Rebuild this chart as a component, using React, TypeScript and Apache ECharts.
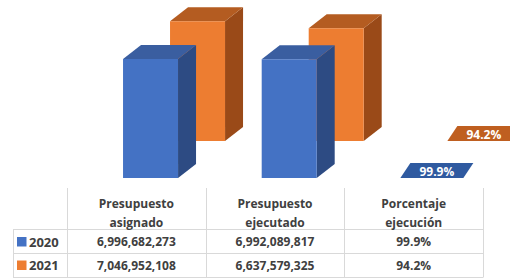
import React, { useEffect, useRef } from "react";
import * as echarts from "echarts";

const categories = ["Presupuesto\nasignado", "Presupuesto\nejecutado", "Porcentaje\nejecución"];
const years = ["2020", "2021"];
const values2020 = [6996682273, 6992089817, 0.999];
const values2021 = [7046952108, 6637579325, 0.942];
const pctIndex = 2;

const FONT = "'Open Sans', 'Noto Sans', sans-serif";
const TEXT = "#404040";
const LINE = "#d9d9d9";

const palettes = {
  "2020": { front: "#4472C4", side: "#2D4B83", top: "#3A5EA0", label: "#2F5AA0" },
  "2021": { front: "#ED7D31", side: "#9A4A18", top: "#B45C21", label: "#BF5F20" },
};

const fmtVal = (v: number, i: number) =>
  i === pctIndex ? (v * 100).toFixed(1) + "%" : v.toLocaleString("en-US");

function makeRender(offX: number, offY: number, pal: any) {
  return (params: any, api: any) => {
    const c = api.value(0);
    const v = api.value(1);
    const idx = params.dataIndex;
    const p0 = api.coord([c, 0]);
    const p1 = api.coord([c, v]);
    const w = 55, dx = 18, dy = 14;
    const x0 = p0[0] - 13.3 + offX;
    const yb = p0[1] + offY;
    const yt = p1[1] + offY;
    const children: any[] = [];
    if (idx === pctIndex) {
      children.push({
        type: "polygon",
        shape: { points: [[x0, yb], [x0 + 10, yb - 15], [x0 + 73, yb - 15], [x0 + 63, yb]] },
        style: { fill: pal.label },
      });
      children.push({
        type: "text",
        style: {
          x: x0 + 36.5, y: yb - 7, text: fmtVal(v, idx), fill: "#ffffff",
          font: `bold 12px ${FONT}`, align: "center", verticalAlign: "middle",
        },
      });
    } else {
      children.push({
        type: "polygon",
        shape: { points: [[x0 + w, yt], [x0 + w + dx, yt - dy], [x0 + w + dx, yb - dy], [x0 + w, yb]] },
        style: { fill: pal.side },
      });
      children.push({
        type: "polygon",
        shape: { points: [[x0, yt], [x0 + dx, yt - dy], [x0 + w + dx, yt - dy], [x0 + w, yt]] },
        style: { fill: pal.top },
      });
      children.push({
        type: "rect",
        shape: { x: x0, y: yt, width: w, height: yb - yt },
        style: { fill: pal.front },
      });
    }
    return { type: "group", children };
  };
}

export default function App() {
  const ref = useRef<HTMLDivElement>(null);
  useEffect(() => {
    if (!ref.current) return;
    const chart = echarts.init(ref.current, null, { renderer: "svg" });
    const gridLeft = 67, gridRight = 483;
    const colW = (gridRight - gridLeft) / categories.length;
    const rowsY = [241.5, 265];
    const hLines = [229, 253, 277];
    const graphics: any[] = [];
    // horizontal lines
    hLines.forEach((y) => {
      graphics.push({ type: "line", shape: { x1: 13, y1: y + 0.5, x2: gridRight + 0.5, y2: y + 0.5 }, style: { stroke: LINE, lineWidth: 1 } });
    });
    // vertical lines
    for (let i = 0; i <= categories.length; i++) {
      const x = Math.round(gridLeft + i * colW) + 0.5;
      graphics.push({ type: "line", shape: { x1: x, y1: 188, x2: x, y2: 277 }, style: { stroke: LINE, lineWidth: 1 } });
    }
    graphics.push({ type: "line", shape: { x1: 13.5, y1: 229, x2: 13.5, y2: 277 }, style: { stroke: LINE, lineWidth: 1 } });
    const rows = [values2020, values2021];
    years.forEach((yr, r) => {
      const pal = (palettes as any)[yr];
      graphics.push({ type: "rect", shape: { x: 17, y: rowsY[r] - 4.5, width: 9.5, height: 9.5 }, style: { fill: pal.front } });
      graphics.push({
        type: "text", style: { x: 29, y: rowsY[r], text: yr, fill: TEXT, font: `bold 13px ${FONT}`, align: "left", verticalAlign: "middle" },
      });
      rows[r].forEach((v, i) => {
        graphics.push({
          type: "text",
          style: { x: gridLeft + colW * (i + 0.5), y: rowsY[r], text: fmtVal(v, i), fill: TEXT, font: `bold 12px ${FONT}`, align: "center", verticalAlign: "middle" },
        });
      });
    });

    chart.setOption({
      animation: false,
      grid: { left: gridLeft, right: 510 - gridRight, top: 42, bottom: 100, containLabel: false },
      xAxis: {
        type: "category",
        data: categories,
        axisLine: { show: false },
        axisTick: { show: false },
        axisLabel: { margin: 16, lineHeight: 19, fontSize: 12, fontWeight: "bold", fontFamily: FONT, color: TEXT, verticalAlign: "top" },
      },
      yAxis: { type: "value", min: 0, max: 8e9, show: false, splitLine: { show: false } },
      series: [
        {
          type: "custom", name: years[1], z: 1, clip: false,
          renderItem: makeRender(47, -37, palettes["2021"]),
          data: values2021.map((v, i) => [i, v]),
        },
        {
          type: "custom", name: years[0], z: 2, clip: false,
          renderItem: makeRender(0, 0, palettes["2020"]),
          data: values2020.map((v, i) => [i, v]),
        },
      ],
      graphic: graphics,
    });
    return () => chart.dispose();
  }, []);
  return <div ref={ref} style={{ position: "fixed", left: 0, top: 0, width: 510, height: 278, background: "#fff" }} />;
}
